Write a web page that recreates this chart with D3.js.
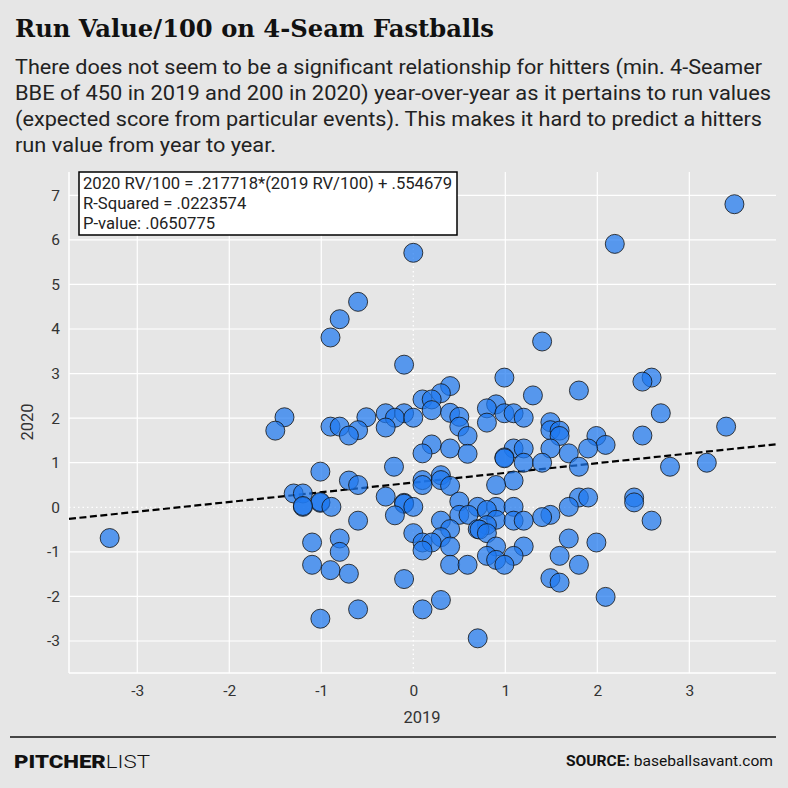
<!DOCTYPE html>
<html>
<head>
<meta charset="utf-8">
<script src="https://cdn.jsdelivr.net/npm/d3@7.9.0/dist/d3.min.js"></script>
<style>
  body { margin: 0; background: #e6e6e6; }
  svg { display: block; }
</style>
</head>
<body>
<svg id="chart" width="788" height="788"></svg>
<script>
// run value / 100 on 4-seamers
const rv2019 = [3.49, 2.19, 0.00, -0.60, -0.80, -0.90, 1.40, -0.10, 0.99, 2.59,
  2.49, 0.40, 1.80, 0.30, 1.30, 0.10, 0.20, 0.90, 0.80, 0.20,
  0.40, 0.99, 1.09, 2.69, -0.30, -0.10, -1.40, -0.51, -0.20, 0.00,
  0.50, 1.20, 1.49, 0.80, -0.90, -0.80, 0.50, 3.40, -0.30, -1.50,
  -0.60, 1.49, 1.59, -0.70, 0.59, 1.59, 1.99, 2.49, 0.20, 2.09,
  0.40, 1.09, 1.20, 1.49, 1.90, 0.10, 0.59, 1.69, 0.99, 0.99,
  1.20, 1.40, 3.19, -0.21, 1.80, 2.79, -1.01, 0.30, -0.70, 0.10,
  0.30, 1.09, -0.60, 0.10, 0.90, 0.40, -1.30, -1.20, -0.30, 1.80,
  1.90, 2.40, 2.40, 0.50, -1.01, -1.01, -0.10, -0.10, -1.20, -1.20,
  -0.89, 0.00, 0.70, 0.90, 1.09, 1.69, 0.80, -0.20, 0.50, 0.60,
  1.49, 1.40, 0.90, -0.60, 0.30, 1.09, 1.20, 2.59, 0.80, 0.70,
  0.72, 0.40, 0.00, 0.80, 0.30, -3.30, -0.80, 1.69, -1.10, 0.10,
  0.20, 1.99, 0.40, 0.90, 1.20, 0.10, -0.80, 0.80, 1.09, 1.59,
  0.90, -1.10, 0.40, 0.59, 0.99, 1.80, -0.90, -0.70, -0.10, 1.49,
  1.59, 2.09, 0.30, -0.60, 0.10, -1.01, 0.70];
const rv2020 = [6.80, 5.91, 5.71, 4.61, 4.22, 3.81, 3.72, 3.20, 2.91, 2.91,
  2.82, 2.72, 2.62, 2.56, 2.51, 2.42, 2.42, 2.31, 2.22, 2.18,
  2.12, 2.11, 2.11, 2.11, 2.11, 2.11, 2.02, 2.02, 2.01, 2.01,
  2.03, 2.01, 1.91, 1.90, 1.81, 1.81, 1.81, 1.81, 1.79, 1.72,
  1.73, 1.73, 1.72, 1.61, 1.60, 1.60, 1.60, 1.61, 1.41, 1.40,
  1.32, 1.32, 1.32, 1.32, 1.32, 1.21, 1.20, 1.21, 1.12, 1.10,
  1.00, 1.00, 1.00, 0.91, 0.91, 0.91, 0.80, 0.72, 0.60, 0.61,
  0.61, 0.60, 0.50, 0.50, 0.50, 0.48, 0.31, 0.31, 0.24, 0.22,
  0.22, 0.22, 0.11, 0.13, 0.10, 0.12, 0.10, 0.08, 0.01, 0.03,
  0.01, 0.01, 0.01, 0.01, 0.01, 0.01, -0.06, -0.18, -0.17, -0.17,
  -0.17, -0.22, -0.28, -0.30, -0.30, -0.30, -0.30, -0.30, -0.40, -0.49,
  -0.50, -0.49, -0.58, -0.58, -0.67, -0.69, -0.70, -0.70, -0.79, -0.79,
  -0.79, -0.79, -0.88, -0.88, -0.88, -0.97, -1.00, -1.09, -1.09, -1.09,
  -1.18, -1.29, -1.29, -1.29, -1.29, -1.29, -1.41, -1.49, -1.61, -1.59,
  -1.69, -2.01, -2.08, -2.29, -2.29, -2.50, -2.94];

const xTicks = [-3, -2, -1, 0, 1, 2, 3];
const yTicks = [-3, -2, -1, 0, 1, 2, 3, 4, 5, 6, 7];
const fitSlope = 0.217718;
const fitIntercept = 0.554679;
const statLines = [
  "2020 RV/100 = .217718*(2019 RV/100) + .554679",
  "R-Squared = .0223574",
  "P-value: .0650775"
];
const titleText = "Run Value/100 on 4-Seam Fastballs";
const subtitleLines = [
  "There does not seem to be a significant relationship for hitters (min. 4-Seamer",
  "BBE of 450 in 2019 and 200 in 2020) year-over-year as it pertains to run values",
  "(expected score from particular events). This makes it hard to predict a hitters",
  "run value from year to year."
];
const subtitleWidths = [747, 756, 747, 261];

const points = rv2019.map((v, i) => ({ x: v, y: rv2020[i] }));

const svg = d3.select("#chart");
const sans = "Roboto, 'Liberation Sans', sans-serif";

svg.append("rect").attr("width", 788).attr("height", 788).attr("fill", "#e6e6e6");

// squeeze text to a width, like the condensed face in the original
function squeeze(sel, w) {
  sel.attr("textLength", w).attr("lengthAdjust", "spacingAndGlyphs");
}

// title + subtitle
svg.append("text")
  .attr("x", 15).attr("y", 37)
  .attr("font-family", "'DejaVu Serif', serif")
  .attr("font-weight", "bold")
  .attr("font-size", 24)
  .attr("fill", "#111")
  .text(titleText)
  .call(squeeze, 479);

subtitleLines.forEach((line, i) => {
  svg.append("text")
    .attr("x", 15).attr("y", 74 + i * 26)
    .attr("font-family", sans)
    .attr("font-size", 20.5)
    .attr("fill", "#222")
    .text(line)
    .call(squeeze, subtitleWidths[i]);
});

// plot
const x = d3.scaleLinear().domain([-3.742, 3.942]).range([69, 776]);
const y = d3.scaleLinear().domain([-3.718, 7.523]).range([673, 172]);

const grid = svg.append("g");
grid.selectAll(".vx").data(xTicks).join("line")
  .attr("x1", d => x(d)).attr("x2", d => x(d))
  .attr("y1", y.range()[1]).attr("y2", y.range()[0])
  .attr("stroke", "#fff")
  .attr("stroke-width", d => d === 0 ? 1.3 : 1.2)
  .attr("stroke-dasharray", d => d === 0 ? "1.5,3" : null);
grid.selectAll(".hy").data(yTicks).join("line")
  .attr("y1", d => y(d)).attr("y2", d => y(d))
  .attr("x1", x.range()[0]).attr("x2", x.range()[1])
  .attr("stroke", "#fff")
  .attr("stroke-width", d => d === 0 ? 1.3 : 1.2)
  .attr("stroke-dasharray", d => d === 0 ? "1.5,3" : null);

// panel edges
svg.append("line")
  .attr("x1", 69).attr("x2", 69).attr("y1", 172).attr("y2", 673)
  .attr("stroke", "#fff").attr("stroke-width", 1.5);
svg.append("line")
  .attr("x1", 69).attr("x2", 776).attr("y1", 673).attr("y2", 673)
  .attr("stroke", "#fff").attr("stroke-width", 1.5);

// axes
const plain = d => String(d);
const xAxis = svg.append("g")
  .attr("transform", "translate(0,673)")
  .call(d3.axisBottom(x).tickValues(xTicks).tickSize(0).tickPadding(12).tickFormat(plain));
const yAxis = svg.append("g")
  .attr("transform", "translate(69,0)")
  .call(d3.axisLeft(y).tickValues(yTicks).tickSize(0).tickPadding(9).tickFormat(plain));
[xAxis, yAxis].forEach(g => {
  g.select(".domain").remove();
  g.selectAll("text")
    .attr("font-family", sans)
    .attr("font-size", 15.5)
    .attr("fill", "#333");
});

svg.append("text")
  .attr("x", 422).attr("y", 723)
  .attr("text-anchor", "middle")
  .attr("font-family", sans).attr("font-size", 16.5).attr("fill", "#333")
  .text("2019");
svg.append("text")
  .attr("transform", "translate(33,422) rotate(-90)")
  .attr("text-anchor", "middle")
  .attr("font-family", sans).attr("font-size", 16.5).attr("fill", "#333")
  .text("2020");

// regression line
const xd = x.domain();
svg.append("line")
  .attr("x1", x(xd[0])).attr("y1", y(fitSlope * xd[0] + fitIntercept))
  .attr("x2", x(xd[1])).attr("y2", y(fitSlope * xd[1] + fitIntercept))
  .attr("stroke", "#000")
  .attr("stroke-width", 2.2)
  .attr("stroke-dasharray", "7,3.5");

// dots
svg.append("g").selectAll("circle").data(points).join("circle")
  .attr("cx", d => x(d.x))
  .attr("cy", d => y(d.y))
  .attr("r", 9.5)
  .attr("fill", "#1f78f0")
  .attr("fill-opacity", 0.72)
  .attr("stroke", "#111")
  .attr("stroke-opacity", 0.8)
  .attr("stroke-width", 1);

// stats box
svg.append("rect")
  .attr("x", 79).attr("y", 172).attr("width", 378).attr("height", 63)
  .attr("fill", "#fff").attr("stroke", "#000").attr("stroke-width", 1.5);
let ratio = 1;
statLines.forEach((t, i) => {
  const el = svg.append("text")
    .attr("x", 83).attr("y", 189 + i * 20)
    .attr("font-family", sans).attr("font-size", 17).attr("fill", "#222")
    .text(t);
  const natural = el.node().getComputedTextLength();
  if (i === 0) ratio = 369 / natural;
  el.call(squeeze, natural * ratio);
});

// footer
svg.append("line")
  .attr("x1", 10).attr("x2", 776).attr("y1", 737).attr("y2", 737)
  .attr("stroke", "#111").attr("stroke-width", 1.5);

const brand = svg.append("text")
  .attr("x", 14).attr("y", 768)
  .attr("font-family", sans).attr("font-size", 19).attr("fill", "#111");
brand.append("tspan").attr("font-weight", 900).text("PITCHER");
brand.append("tspan").attr("font-weight", 300).text("LIST");
brand.call(squeeze, 136);

const source = svg.append("text")
  .attr("x", 773).attr("y", 766)
  .attr("text-anchor", "end")
  .attr("font-family", sans).attr("font-size", 15.5).attr("fill", "#111");
source.append("tspan").attr("font-weight", 700).text("SOURCE: ");
source.append("tspan").text("baseballsavant.com");
source.call(squeeze, 207);
</script>
</body>
</html>
